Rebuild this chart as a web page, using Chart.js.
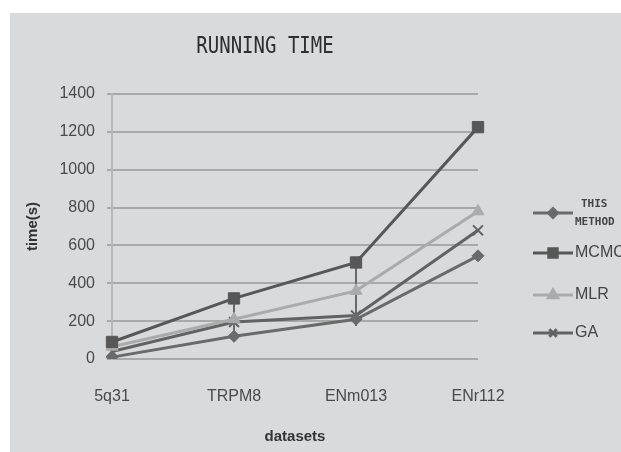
<!DOCTYPE html>
<html>
<head>
<meta charset="utf-8">
<script src="https://cdn.jsdelivr.net/npm/chart.js@4.4.1/dist/chart.umd.min.js"></script>
<style>
  html, body { margin: 0; padding: 0; background: #fff; overflow: hidden; }
  #wrap { position: absolute; left: 10px; top: 13px; width: 611px; height: 439px; background: #d9dadc; }
</style>
</head>
<body>
<div id="wrap"><canvas id="rtChart" width="611" height="439"></canvas></div>
<script>
// Data

const categories = ["5q31", "TRPM8", "ENm013", "ENr112"];
const seriesNames = ["THIS METHOD", "MCMC", "MLR", "GA"];
const thisMethod = [10, 120, 210, 545];
const mcmc = [90, 320, 510, 1225];
const mlr = [65, 210, 360, 780];
const ga = [40, 195, 230, 680];
// lower end of the vertical lines hanging under the MCMC points
const mcmcLow = [null, 90, 175, null];
const yTicks = [0, 200, 400, 600, 800, 1000, 1200, 1400];

function getElement(id) {
  return document.getElementById(id);
}

const styles = [
  { color: "#6a6a6a", point: "rectRot", radius: 6 },
  { color: "#575757", point: "rect", radius: 8 },
  { color: "#ababab", point: "triangle", radius: 7 },
  { color: "#626262", point: "crossRot", radius: 7 },
];

function makeSet(i, values) {
  const s = styles[i];
  return {
    label: seriesNames[i],
    data: values,
    borderColor: s.color,
    backgroundColor: s.color,
    pointBackgroundColor: s.color,
    pointBorderColor: s.color,
    borderWidth: 3,
    pointBorderWidth: s.point === "crossRot" ? 2 : 1,
    pointStyle: s.point,
    pointRadius: s.radius,
    tension: 0,
  };
}

// title, drop lines and side legend
const extras = {
  id: "extras",
  beforeDatasetsDraw(chart) {
    const c = chart.ctx;
    const x = chart.scales.x;
    const y = chart.scales.y;
    c.save();
    c.strokeStyle = "#6a6a6a";
    c.lineWidth = 2;
    for (let i = 0; i < mcmcLow.length; i++) {
      if (mcmcLow[i] === null) continue;
      const px = x.getPixelForValue(i);
      c.beginPath();
      c.moveTo(px, y.getPixelForValue(mcmc[i]));
      c.lineTo(px, y.getPixelForValue(mcmcLow[i]));
      c.stroke();
    }
    c.restore();
  },
  afterDraw(chart) {
    const c = chart.ctx;
    c.save();
    // tall, narrow title lettering
    c.fillStyle = "#2e2e2e";
    c.font = "19px 'DejaVu Sans Mono'";
    c.textAlign = "center";
    c.textBaseline = "middle";
    c.translate(255, 34);
    c.scale(1, 1.25);
    c.fillText("RUNNING TIME", 0, 0);
    c.restore();

    c.save();
    c.textBaseline = "middle";
    const legY = [200, 240, 282, 320];
    chart.data.datasets.forEach((ds, i) => {
      const ly = legY[i];
      c.strokeStyle = ds.borderColor;
      c.fillStyle = ds.backgroundColor;
      c.lineWidth = 3;
      c.beginPath();
      c.moveTo(523, ly);
      c.lineTo(563, ly);
      c.stroke();
      Chart.helpers.drawPoint(c, {
        pointStyle: ds.pointStyle,
        radius: ds.pointRadius * 0.75,
        rotation: 0,
        borderWidth: ds.pointBorderWidth,
      }, 543, ly);
      c.fillStyle = "#444";
      c.textAlign = "left";
      const words = ds.label.split(" ");
      if (words.length > 1) {
        c.font = "bold 11px 'DejaVu Sans Mono'";
        c.fillText(words[0], 571, ly - 9);
        c.fillText(words[1], 565, ly + 9);
      } else {
        c.font = "16px 'Liberation Sans'";
        c.fillText(ds.label, 565, ly);
      }
    });
    c.restore();
  },
};

// Line Chart

let ctx = getElement("rtChart");

new Chart(ctx, {
  type: "line",
  data: {
    labels: categories,
    datasets: [
      makeSet(0, thisMethod),
      makeSet(1, mcmc),
      makeSet(2, mlr),
      makeSet(3, ga),
    ],
  },
  options: {
    responsive: false,
    animation: false,
    layout: {
      padding: { left: 0, right: 143, top: 81, bottom: 0 },
    },
    scales: {
      x: {
        offset: false,
        grid: { display: false, drawTicks: false },
        border: { display: false },
        ticks: {
          color: "#4a4a4a",
          font: { family: "Liberation Sans", size: 16 },
          padding: 28,
        },
        title: {
          display: true,
          text: "datasets",
          color: "#333",
          font: { family: "Liberation Sans", size: 15, weight: "bold" },
          padding: { top: 0, bottom: 6 },
        },
        afterFit(scale) {
          scale.height = 93;
        },
      },
      y: {
        min: 0,
        max: 1400,
        afterBuildTicks(scale) {
          scale.ticks = yTicks.map((v) => ({ value: v }));
        },
        grid: {
          color: "#a9a9a9",
          lineWidth: 2,
          tickLength: 5,
        },
        border: { color: "#b8b8b8", width: 2 },
        ticks: {
          color: "#4a4a4a",
          font: { family: "Liberation Sans", size: 16 },
          padding: 12,
          callback: (v) => String(v),
        },
        title: {
          display: true,
          text: "time(s)",
          color: "#333",
          font: { family: "Liberation Sans", size: 15, weight: "bold" },
          padding: { top: 14, bottom: 0 },
        },
        afterFit(scale) {
          scale.width = 102;
        },
      },
    },
    plugins: {
      legend: { display: false },
      tooltip: { enabled: false },
    },
  },
  plugins: [extras],
});
</script>
</body>
</html>
